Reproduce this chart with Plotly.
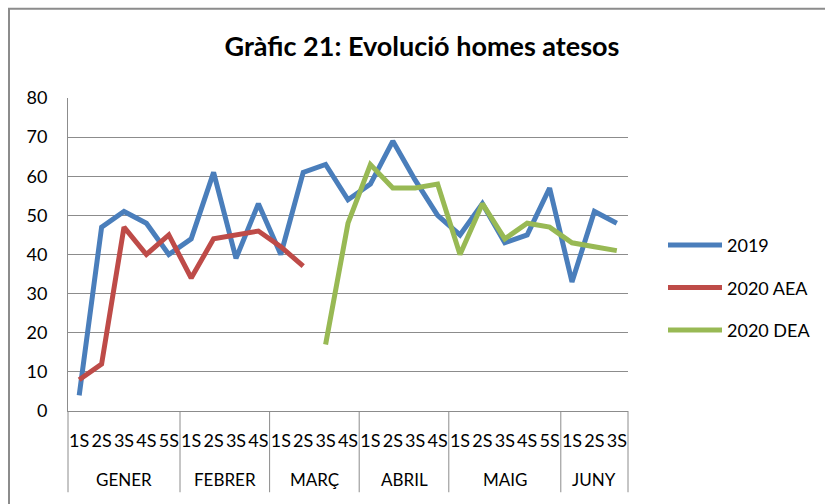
import plotly.graph_objects as go

MONTHS = ["GENER", "FEBRER", "MARÇ", "ABRIL", "MAIG", "JUNY"]
WEEKS_PER_MONTH = [5, 4, 4, 4, 5, 3]
WEEKS = ["1S", "2S", "3S", "4S", "5S",
         "1S", "2S", "3S", "4S",
         "1S", "2S", "3S", "4S",
         "1S", "2S", "3S", "4S",
         "1S", "2S", "3S", "4S", "5S",
         "1S", "2S", "3S"]

Y_2019 = [4, 47, 51, 48, 40, 44, 61, 39, 53, 40, 61, 63, 54,
          58, 69, 59, 50, 45, 53, 43, 45, 57, 33, 51, 48]
Y_2020_AEA = [8, 12, 47, 40, 45, 34, 44, 45, 46, 42, 37,
              None, None, None, None, None, None, None, None, None, None, None, None, None, None]
Y_2020_DEA = [None] * 11 + [17, 48, 63, 57, 57, 58, 40, 53, 44, 48, 47, 43, 42, 41]

SERIES = [
    ("2019", Y_2019, "#4A7EBB"),
    ("2020 AEA", Y_2020_AEA, "#BE4B48"),
    ("2020 DEA", Y_2020_DEA, "#98B954"),
]

FONT = "Lato"
GRID = "#8c8c8c"

idx = list(range(len(WEEKS)))

fig = go.Figure()
for i, (name, ys, color) in enumerate(SERIES):
    fig.add_trace(go.Scatter(
        x=idx, y=ys, name=name, mode="lines",
        line=dict(color=color, width=5), connectgaps=False,
        legendgroup=f"g{i}",
    ))

# plot area: x 68..628, y 97.5..411.5 (px)
L, R, T, B = 68, 628, 97.5, 411.5
W, H = R - L, B - T

def px_x(v):
    return (v - L) / W

def px_y(v):
    return (B - v) / H

# outer chart frame
fig.add_shape(type="rect", xref="paper", yref="paper",
              x0=px_x(9), x1=px_x(840), y0=px_y(8), y1=px_y(520),
              line=dict(color="#8c8c8c", width=2), layer="below")

# month groups: dividers and labels
n_total = len(WEEKS)
start = 0
bounds = [0]
for month, n in zip(MONTHS, WEEKS_PER_MONTH):
    fig.add_annotation(x=start + (n - 1) / 2, xref="x", y=px_y(480), yref="paper",
                       text=month, showarrow=False, yanchor="middle",
                       font=dict(family=FONT, size=17, color="black"))
    start += n
    bounds.append(start)
for b in bounds:
    fig.add_shape(type="line", xref="paper", yref="paper",
                  x0=b / n_total, x1=b / n_total, y0=0, y1=px_y(493),
                  line=dict(color=GRID, width=1))

fig.update_layout(
    width=825, height=504,
    margin=dict(l=L, r=825 - R, t=T, b=504 - B, autoexpand=False),
    paper_bgcolor="white", plot_bgcolor="white",
    font=dict(family=FONT, size=17, color="black"),
    title=dict(text="<b>Gràfic 21: Evolució homes atesos</b>",
               xref="container", yref="container", x=422 / 825, y=1 - 47 / 504,
               xanchor="center", yanchor="middle",
               font=dict(family=FONT, size=27, color="black")),
    legend=dict(x=px_x(663), y=px_y(288), xanchor="left", yanchor="middle",
                font=dict(family=FONT, size=18), tracegroupgap=16,
                itemwidth=54, bgcolor="rgba(0,0,0,0)"),
    showlegend=True,
)
fig.update_yaxes(range=[0, 80], dtick=10, showgrid=True, gridcolor=GRID, gridwidth=1,
                 showline=True, linecolor=GRID, linewidth=1, zeroline=False,
                 ticks="", ticklabelstandoff=16, tickfont=dict(size=18))
fig.update_xaxes(range=[-0.5, n_total - 0.5], tickvals=idx, ticktext=WEEKS,
                 showgrid=False, showline=True, linecolor=GRID, linewidth=1,
                 zeroline=False, ticks="", ticklabelstandoff=13,
                 tickangle=0, tickfont=dict(size=18))

fig.write_html("out.html", config={"displayModeBar": False},
               post_script="document.body.style.margin='0';")
